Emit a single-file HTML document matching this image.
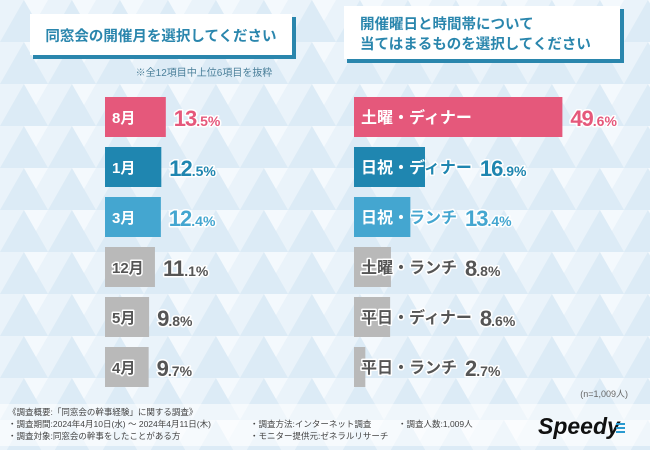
<!DOCTYPE html>
<html><head><meta charset="utf-8">
<style>
html,body{margin:0;padding:0;width:650px;height:450px;overflow:hidden;font-family:"Liberation Sans","Noto Sans CJK JP",sans-serif;}
svg{display:block}
</style></head>
<body>
<svg id="chart" width="650" height="450" viewBox="0 0 650 450" xmlns="http://www.w3.org/2000/svg" font-family="Liberation Sans, Noto Sans CJK JP, sans-serif">
<defs>
<pattern id="tri" width="48" height="42" patternUnits="userSpaceOnUse">
<rect width="48" height="42" fill="#eaf3fa"/>
<polygon points="0,42 24,0 48,42" fill="#dcebf6"/>
<polygon points="24,0 48,0 36,21" fill="#f4f9fd"/>
</pattern>
</defs>
<rect width="650" height="450" fill="url(#tri)"/>
<g>
<rect x="33" y="17" width="263" height="42" fill="#2a86ad"/>
<rect x="30" y="14" width="262" height="41" fill="#fff"/>
<text x="161" y="41" font-size="14.5" font-weight="bold" fill="#2a86ad" text-anchor="middle">同窓会の開催月を選択してください</text>
</g>
<text x="204" y="76" font-size="10" fill="#4a7f99" text-anchor="middle">※全12項目中上位6項目を抜粋</text>
<g>
<rect x="347" y="9" width="277" height="54" fill="#2a86ad"/>
<rect x="344" y="6" width="276" height="53" fill="#fff"/>
<text x="360" y="29" font-size="14.5" font-weight="bold" fill="#2a86ad">開催曜日と時間帯について</text>
<text x="360" y="49" font-size="14.5" font-weight="bold" fill="#2a86ad">当てはまるものを選択してください</text>
</g>
<g id="left-bars"></g>
<g id="right-bars"></g>
<text x="628" y="397" font-size="9" fill="#666" text-anchor="end">(n=1,009人)</text>
<rect x="0" y="404" width="650" height="42" fill="#fff" opacity="0.55"/>
<g font-size="8.5" fill="#444">
<text x="8" y="415">《調査概要:「同窓会の幹事経験」に関する調査》</text>
<text x="8" y="427">・調査期間:2024年4月10日(水) ～ 2024年4月11日(木)</text>
<text x="8" y="439">・調査対象:同窓会の幹事をしたことがある方</text>
<text x="250" y="427">・調査方法:インターネット調査</text>
<text x="250" y="439">・モニター提供元:ゼネラルリサーチ</text>
<text x="398" y="427">・調査人数:1,009人</text>
</g>
<text x="538" y="434" font-size="23" font-weight="bold" font-style="italic" fill="#111">Speedy</text>
<g><rect x="616" y="423" width="9" height="2" fill="#2a9ad0"/><rect x="616" y="427" width="9" height="2" fill="#2a9ad0"/><rect x="616" y="431" width="9" height="2" fill="#2a9ad0"/></g>
</svg>
<script>
const leftCats=["8月","1月","3月","12月","5月","4月"];
const leftVals=[13.5,12.5,12.4,11.1,9.8,9.7];
const rightCats=["土曜・ディナー","日祝・ディナー","日祝・ランチ","土曜・ランチ","平日・ディナー","平日・ランチ"];
const rightVals=[49.6,16.9,13.4,8.8,8.6,2.7];
const NS="http://www.w3.org/2000/svg";
const colors=["#e5587b","#1f86b0","#44a6d0","#b9b9b9","#b9b9b9","#b9b9b9"];
const textCol=["#e5587b","#1f86b0","#44a6d0","#555","#555","#555"];
function mk(tag,attrs,parent){const e=document.createElementNS(NS,tag);for(const k in attrs)e.setAttribute(k,attrs[k]);parent.appendChild(e);return e;}
function draw(gid,cats,vals,x0,scale,labelSize,side){
 const g=document.getElementById(gid);
 const yRow=i=>97+i*50;
 cats.forEach((c,i)=>{
  const y=yRow(i),w=vals[i]*scale;
  const bar=mk('rect',{x:x0,y:y,width:w,height:40,fill:colors[i]},g);
  
  
  const cid=gid+'clip'+i;
  const cp=mk('clipPath',{id:cid},g);mk('rect',{x:x0,y:y,width:w,height:40},cp);
  const lx=x0+7,ly=y+26;
  const lab=mk('text',{x:lx,y:ly,'font-size':labelSize,'font-weight':'bold',fill:textCol[i],stroke:'#fff','stroke-width':3,'paint-order':'stroke','stroke-linejoin':'round'},g);
  lab.textContent=c;
  
  
  let lw=lab.getComputedTextLength();
  if(i<3){
   const cg=mk('g',{'clip-path':'url(#'+cid+')'},g);
   mk('rect',{x:x0,y:y,width:w,height:40,fill:colors[i]},cg);
   const wl=mk('text',{x:lx,y:ly,'font-size':labelSize,'font-weight':'bold',fill:'#fff'},cg);wl.textContent=c;
  }
  const vx=Math.max(x0+w,lx+lw)+8;
  const s=String(vals[i]).split('.');
  const v=mk('text',{x:vx,y:y+29,fill:textCol[i],'font-weight':'bold',stroke:'#fff','stroke-width':3,'paint-order':'stroke','stroke-linejoin':'round'},g);
  
  
  const t1=mk('tspan',{'font-size':22,'letter-spacing':'-1'},v);t1.textContent=s[0];
  const t2=mk('tspan',{'font-size':14},v);t2.textContent='.'+(s[1]||'0')+'%';
 });
}
draw('left-bars',leftCats,leftVals,105,4.5,15,'left');
draw('right-bars',rightCats,rightVals,354,4.2,16,'right');
</script>
</body></html>
